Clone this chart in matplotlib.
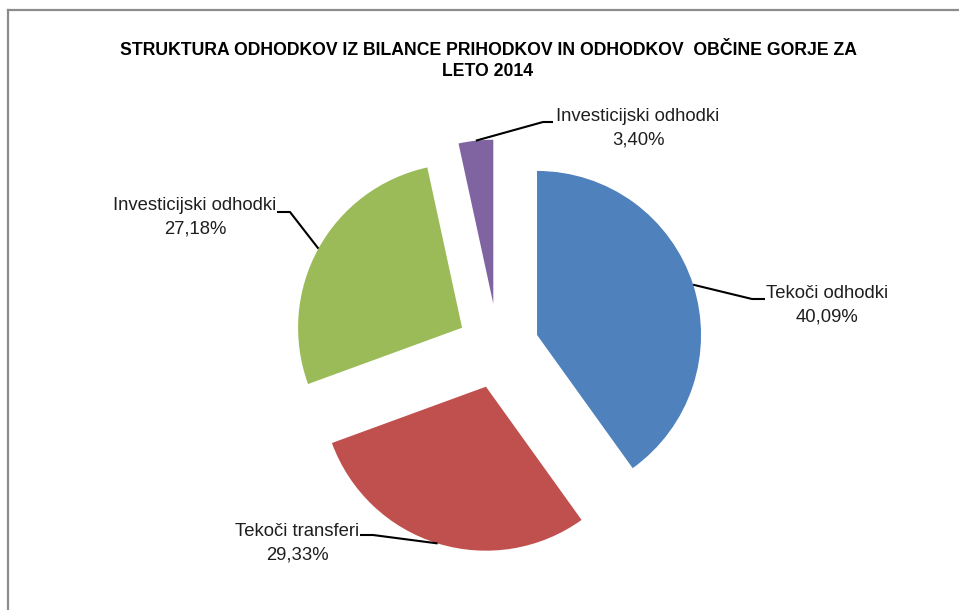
import matplotlib
matplotlib.use("Agg")
import matplotlib.pyplot as plt
from matplotlib.lines import Line2D
from matplotlib import font_manager
import numpy as np

labels = ["Tekoči odhodki", "Tekoči transferi", "Investicijski odhodki", "Investicijski odhodki"]
values = [40.09, 29.33, 27.18, 3.40]
pct_text = ["40,09%", "29,33%", "27,18%", "3,40%"]
colors = ["#4F81BD", "#C0504D", "#9BBB59", "#8064A2"]
title = "STRUKTURA ODHODKOV IZ BILANCE PRIHODKOV IN ODHODKOV  OBČINE GORJE ZA\nLETO 2014"

W, H = 959, 610

# narrow Arial-like font if there is one, else Liberation Sans
names = {f.name for f in font_manager.fontManager.ttflist}
if "Liberation Sans Narrow" in names:
    font = ["Liberation Sans Narrow", "DejaVu Sans"]
    lab_size, title_size = 15.5, 15
else:
    font = ["Liberation Sans", "DejaVu Sans"]
    lab_size, title_size = 13.3, 12.7

fig = plt.figure(figsize=(W / 100, H / 100), dpi=100)
ax = fig.add_axes([0, 0, 1, 1])

wedges, _ = ax.pie(values, colors=colors, startangle=90, counterclock=False,
                   radius=164, center=(498, H - 347.5),
                   explode=[41, 41, 41, 44], frame=True)
ax.set_xlim(0, W)
ax.set_ylim(0, H)
ax.set_aspect("equal")
ax.axis("off")

# label block centres and leader elbows (pixel coords, y down)
label_pos = [(827, 305), (297, 543), (195, 217), (638, 128)]
elbows = [[(752, 299), (765, 299)],
          [(373, 535), (360, 535)],
          [(290, 212), (277, 212)],
          [(543, 122), (553, 122)]]

for i, w in enumerate(wedges):
    mid = np.deg2rad((w.theta1 + w.theta2) / 2)
    sx = w.center[0] + w.r * np.cos(mid)
    sy = w.center[1] + w.r * np.sin(mid)
    xs = [sx] + [p[0] for p in elbows[i]]
    ys = [sy] + [H - p[1] for p in elbows[i]]
    ax.plot(xs, ys, color="black", lw=1.5, solid_capstyle="butt")
    lx, ly = label_pos[i]
    ax.text(lx, H - ly, labels[i] + "\n" + pct_text[i], ha="center", va="center",
            multialignment="center", fontsize=lab_size, color="#1e1e1e",
            family=font, linespacing=1.5)

fig.text(488 / W, 1 - 61 / H, title,
         ha="center", va="center", multialignment="center", fontsize=title_size,
         fontweight="bold", family=font, linespacing=1.35, color="black")

# chart border (only top and left visible)
fig.add_artist(Line2D([7.5 / W, 7.5 / W], [0, 1 - 10 / H], color="#8c8c8c", lw=1.6))
fig.add_artist(Line2D([7.5 / W, 1], [1 - 10 / H, 1 - 10 / H], color="#8c8c8c", lw=1.6))

fig.savefig("out.png", dpi=100)
